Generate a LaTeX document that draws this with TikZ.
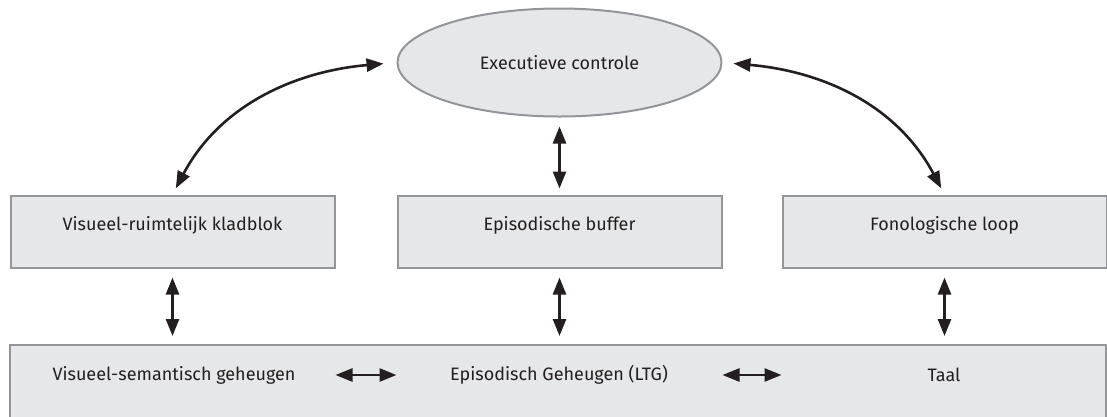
\documentclass[tikz,border=0pt]{standalone}
\usepackage{fontspec}
\setmainfont{Fira Sans}
\usetikzlibrary{arrows.meta,shapes.geometric}
\definecolor{boxfill}{HTML}{E6E7E8}
\definecolor{boxline}{HTML}{939598}
\definecolor{ink}{HTML}{231F20}
\tikzset{
  box/.style={draw=boxline, fill=boxfill, line width=2pt, rectangle, inner sep=0pt,
    font=\fontsize{18}{21}\selectfont, text=ink},
  rowbox/.style={box, minimum width=324pt, minimum height=72pt, text height=12pt, text depth=14pt},
  oval/.style={box, ellipse, minimum width=324pt, minimum height=108pt},
  lbl/.style={font=\fontsize{18}{21}\selectfont, text=ink, inner sep=0pt},
  arr/.style={draw=ink, line width=2.6pt, {Triangle[length=17pt,width=13pt]}-{Triangle[length=17pt,width=13pt]}},
}
\begin{document}
\begin{tikzpicture}[x=1pt,y=-1pt]
\useasboundingbox (0,0) rectangle (1107,416);
\node[oval] (ec) at (559.5,62.5) {Executieve controle};
\node[rowbox] (vrk) at (172.5,231.5) {Visueel-ruimtelijk kladblok};
\node[rowbox] (eb) at (559.5,231.5) {Episodische buffer};
\node[rowbox] (fl) at (944.5,231.5) {Fonologische loop};
\node[box, minimum width=1096pt, minimum height=90pt] (mem) at (558,390) {};
\node[lbl] (vsg) at (174,375) {Visueel-semantisch geheugen};
\node[lbl] (epg) at (559,375) {Episodisch Geheugen (LTG)};
\node[lbl] (taal) at (944,375) {Taal};
% curved arrows
\draw[arr, shorten <=13pt, shorten >=7pt] (ec.west) to[out=185,in=62] (vrk.north);
\draw[arr, shorten <=11pt, shorten >=7pt] (ec.east) to[out=-5,in=118] (fl.north);
% verticals
\draw[arr, shorten <=9pt, shorten >=6pt] (ec.south) -- (eb.north);
\draw[arr, shorten <=9pt, shorten >=8pt] (vrk.south) -- (vrk.south |- mem.north);
\draw[arr, shorten <=9pt, shorten >=8pt] (eb.south) -- (eb.south |- mem.north);
\draw[arr, shorten <=9pt, shorten >=8pt] (fl.south) -- (fl.south |- mem.north);
% horizontals
\draw[arr] (vrk.east |- vsg) -- (eb.west |- vsg);
\draw[arr] (eb.east |- epg) -- (fl.west |- epg);
\end{tikzpicture}
\end{document}
